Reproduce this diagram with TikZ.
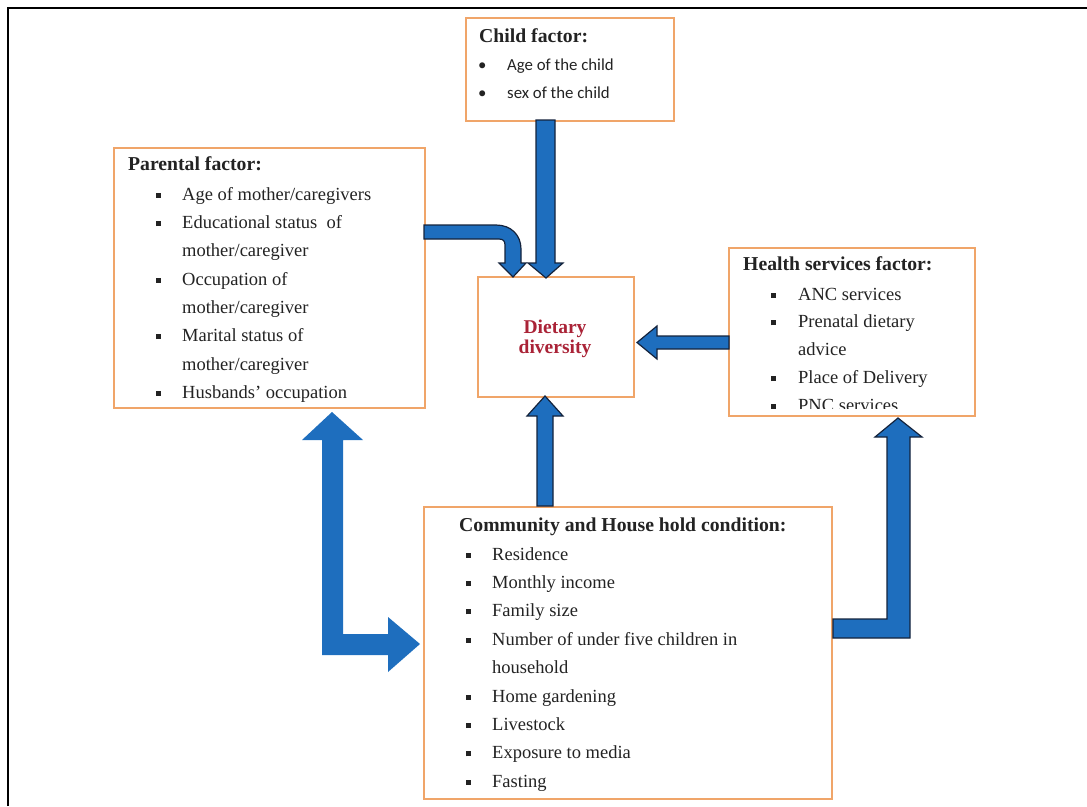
\documentclass[tikz,border=0pt]{standalone}
\usepackage{fontspec}
\setmainfont{Liberation Serif}
\newfontfamily\calfont{Carlito}
\definecolor{boxorange}{RGB}{240,165,105}
\definecolor{arrowblue}{RGB}{30,110,190}
\definecolor{arrowline}{RGB}{20,35,60}
\definecolor{txt}{RGB}{35,35,35}
\definecolor{dietred}{RGB}{170,35,55}
\newcommand\mysq{\rule[2.5pt]{5pt}{5pt}}
\begin{document}
\begin{tikzpicture}[x=1pt,y=-1pt,
  box/.style={draw=boxorange, line width=2pt, fill=white, inner sep=0pt, anchor=north west},
  blk/.style={fill=arrowblue, draw=arrowline, line width=1.2pt, line join=miter},
  blkplain/.style={fill=arrowblue},
  titletext/.style={font=\fontsize{19.7}{23}\selectfont\bfseries, text=txt, anchor=base west, inner sep=0pt},
  listtext/.style={anchor=north west, inner sep=0pt, text=txt},
  diettext/.style={font=\fontsize{19.5}{20}\selectfont\bfseries, text=dietred, anchor=base, inner sep=0pt}]
\useasboundingbox (0,0) rectangle (1087,806);
\draw[line width=1.5pt] (8,806) -- (8,8) -- (1087,8);

% boxes
\node[box, minimum width=208pt, minimum height=103pt] (child) at (465,17) {};
\node[box, minimum width=311pt, minimum height=260pt] (parent) at (113,147) {};
\node[box, minimum width=156pt, minimum height=120pt] (diet) at (477,276) {};
\node[box, minimum width=246pt, minimum height=168pt] (health) at (728,247) {};
\node[box, minimum width=408pt, minimum height=292pt] (comm) at (423,506) {};

% child
\node[titletext] (ctitle) at (479,42) {Child factor:};
\node[listtext, font=\calfont\fontsize{16.8}{28}\selectfont] (clist) at (478,50.4) {%
\begin{tabular}{@{}p{29pt}@{}l@{}}
\textbullet & Age of the child\\
\textbullet & sex of the child
\end{tabular}};

% parental
\node[titletext] (ptitle) at (128,170) {Parental factor:};
\node[listtext, font=\fontsize{18.5}{28.3}\selectfont] (plist) at (155.5,180.2) {%
\begin{tabular}{@{}p{26.5pt}@{}l@{}}
\mysq & Age of mother/caregivers\\
\mysq & Educational status\ \ of\\
 & mother/caregiver\\
\mysq & Occupation of\\
 & mother/caregiver\\
\mysq & Marital status of\\
 & mother/caregiver\\
\mysq & Husbands’ occupation
\end{tabular}};

% dietary
\node[diettext] (dt1) at (555,333) {Dietary};
\node[diettext] (dt2) at (555,353) {diversity};

% health
\node[titletext] (htitle) at (743,270) {Health services factor:};
\begin{scope}
\clip (729,248) rectangle (974,408);
\node[listtext, font=\fontsize{18.5}{27.8}\selectfont] (hlist) at (770.5,280.5) {%
\begin{tabular}{@{}p{27.5pt}@{}l@{}}
\mysq & ANC services\\
\mysq & Prenatal dietary\\
 & advice\\
\mysq & Place of Delivery\\
\mysq & PNC services
\end{tabular}};
\end{scope}

% community
\node[titletext] (mtitle) at (459,531) {Community and House hold condition:};
\node[listtext, font=\fontsize{18.5}{28.4}\selectfont] (mlist) at (465.5,540.1) {%
\begin{tabular}{@{}p{26.5pt}@{}l@{}}
\mysq & Residence\\
\mysq & Monthly income\\
\mysq & Family size\\
\mysq & Number of under five children in\\
 & household\\
\mysq & Home gardening\\
\mysq & Livestock\\
\mysq & Exposure to media\\
\mysq & Fasting
\end{tabular}};

% block arrows
% child -> diet
\filldraw[blk] (536,120) -- (555,120) -- (555,263) -- (563,263) -- (546,278) -- (528,263) -- (536,263) -- cycle;
% parent -> diet (curved)
\filldraw[blk] (424,225) -- (496,225) .. controls (511,225) and (521,235) .. (521,249) -- (521,263) -- (526,263) -- (513,277) -- (499,263) -- (505,263) -- (505,245) .. controls (505,241) and (503,239) .. (499,239) -- (424,239) -- cycle;
% health -> diet
\filldraw[blk] (729,336) -- (729,349) -- (657,349) -- (657,359) -- (637,342.5) -- (657,326) -- (657,336) -- cycle;
% comm -> diet
\filldraw[blk] (537,506) -- (553,506) -- (553,416) -- (563,416) -- (545,396) -- (527,416) -- (537,416) -- cycle;
% parent <-> comm
\fill[blkplain] (332,412) -- (363,440) -- (343,440) -- (343,634) -- (388,634) -- (388,617) -- (420,644) -- (388,672) -- (388,655) -- (322,655) -- (322,440) -- (302,440) -- cycle;
% comm -> health
\filldraw[blk] (833,619) -- (887,619) -- (887,437) -- (875,437) -- (898,418) -- (922,437) -- (910,437) -- (910,638) -- (833,638) -- cycle;
\end{tikzpicture}
\end{document}
